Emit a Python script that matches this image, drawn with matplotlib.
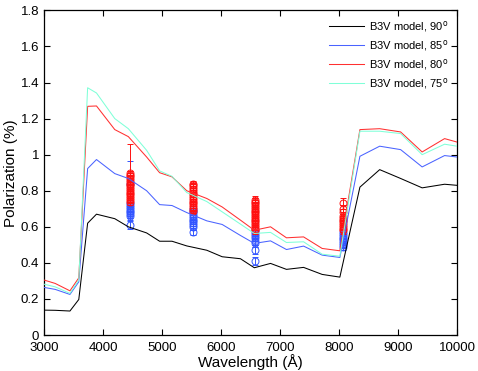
import matplotlib
matplotlib.use("Agg")
import matplotlib.pyplot as plt

plt.rcParams['font.family'] = ['Liberation Sans', 'DejaVu Sans']

# Model curves
wavelength = [3000, 3190, 3440, 3590, 3740, 3890, 4200, 4430, 4740, 4960, 5170, 5420,
              5760, 6020, 6330, 6565, 6840, 7110, 7400, 7715, 8015, 8355, 8690, 9045,
              9410, 9790, 10000]
model_90 = [0.138, 0.137, 0.133, 0.197, 0.62, 0.67, 0.645, 0.60, 0.566, 0.52, 0.52, 0.494,
            0.47, 0.434, 0.423, 0.373, 0.397, 0.364, 0.375, 0.336, 0.321, 0.82, 0.917, 0.868,
            0.816, 0.836, 0.83]
model_85 = [0.264, 0.253, 0.225, 0.295, 0.923, 0.973, 0.895, 0.868, 0.80, 0.723, 0.718, 0.679,
            0.633, 0.613, 0.552, 0.508, 0.522, 0.474, 0.493, 0.443, 0.43, 0.991, 1.047, 1.028,
            0.932, 0.995, 0.987]
model_80 = [0.305, 0.286, 0.245, 0.317, 1.268, 1.27, 1.139, 1.10, 0.987, 0.90, 0.877, 0.80,
            0.757, 0.71, 0.637, 0.581, 0.60, 0.539, 0.544, 0.48, 0.467, 1.139, 1.144, 1.126,
            1.015, 1.089, 1.07]
model_75 = [0.282, 0.267, 0.231, 0.305, 1.371, 1.342, 1.20, 1.144, 1.024, 0.91, 0.88, 0.79,
            0.74, 0.683, 0.615, 0.563, 0.569, 0.513, 0.517, 0.448, 0.437, 1.13, 1.13, 1.117,
            1.0, 1.058, 1.047]

# Observations (red and blue groups) at four wavelengths
obs_wl = [4450, 5530, 6580, 8060]
red_obs = [
    [0.90, 0.89, 0.88, 0.87, 0.86, 0.85, 0.84, 0.83, 0.82, 0.81, 0.80, 0.79, 0.78, 0.77, 0.76, 0.75, 0.74],
    [0.84, 0.83, 0.82, 0.81, 0.80, 0.79, 0.78, 0.77, 0.76, 0.75, 0.74, 0.73, 0.72, 0.71, 0.70, 0.69],
    [0.75, 0.74, 0.73, 0.72, 0.71, 0.70, 0.69, 0.68, 0.67, 0.66, 0.65, 0.64, 0.63, 0.62, 0.61, 0.60, 0.59, 0.58],
    [0.73, 0.70, 0.68, 0.66, 0.65, 0.64, 0.63, 0.62, 0.61, 0.60, 0.59, 0.58],
]
red_err = [
    [0.16, 0.02, 0.02, 0.02, 0.02, 0.02, 0.02, 0.02, 0.02, 0.02, 0.02, 0.02, 0.02, 0.02, 0.02, 0.02, 0.02],
    [0.015] * 16,
    [0.02] * 18,
    [0.03, 0.02, 0.02, 0.02, 0.02, 0.02, 0.02, 0.02, 0.02, 0.02, 0.02, 0.02],
]
blue_obs = [
    [0.84, 0.73, 0.72, 0.71, 0.70, 0.69, 0.68, 0.67, 0.66, 0.61],
    [0.70, 0.69, 0.68, 0.67, 0.66, 0.65, 0.64, 0.63, 0.62, 0.61, 0.60, 0.57],
    [0.58, 0.57, 0.56, 0.55, 0.54, 0.52, 0.51, 0.47, 0.41],
    [0.57, 0.56, 0.55, 0.54, 0.53, 0.52, 0.51, 0.50, 0.49],
]
blue_err = [
    [0.125, 0.02, 0.02, 0.02, 0.02, 0.02, 0.02, 0.02, 0.02, 0.02],
    [0.015] * 12,
    [0.02] * 9,
    [0.02] * 9,
]

fig = plt.figure(figsize=(4.78, 3.71), dpi=100)
ax = fig.add_axes([0.092, 0.097, 0.864, 0.875])

c_black = 'black'
c_blue = '#4a63ff'
c_red = '#ff3030'
c_cyan = '#80ffd8'

for i, w in enumerate(obs_wl):
    ax.errorbar([w] * len(blue_obs[i]), blue_obs[i], yerr=blue_err[i], fmt='o',
                mfc='none', mec='#3355ff', ecolor='#3355ff', ms=5, mew=0.7,
                elinewidth=0.7, capsize=2.5, zorder=3)
for i, w in enumerate(obs_wl):
    ax.errorbar([w] * len(red_obs[i]), red_obs[i], yerr=red_err[i], fmt='o',
                mfc='none', mec='#ff1010', ecolor='#ff1010', ms=5, mew=0.7,
                elinewidth=0.7, capsize=2.5, zorder=4)

ax.plot(wavelength, model_90, color=c_black, lw=0.75, label='B3V model, 90$^{\\rm o}$', zorder=5)
ax.plot(wavelength, model_85, color=c_blue, lw=0.75, label='B3V model, 85$^{\\rm o}$', zorder=5)
ax.plot(wavelength, model_80, color=c_red, lw=0.75, label='B3V model, 80$^{\\rm o}$', zorder=5)
ax.plot(wavelength, model_75, color=c_cyan, lw=0.75, label='B3V model, 75$^{\\rm o}$', zorder=5)

ax.set_xlim(3000, 10000)
ax.set_ylim(0, 1.8)
ax.set_xticks([3000, 4000, 5000, 6000, 7000, 8000, 9000, 10000])
ax.set_yticks([0, 0.2, 0.4, 0.6, 0.8, 1.0, 1.2, 1.4, 1.6, 1.8])
ax.set_yticklabels(['0', '0.2', '0.4', '0.6', '0.8', '1', '1.2', '1.4', '1.6', '1.8'])
ax.tick_params(direction='in', top=True, right=True, labelsize=9.5, length=4, width=0.8)
ax.tick_params(axis='x', pad=5)
for s in ax.spines.values():
    s.set_linewidth(0.9)

ax.set_xlabel('Wavelength (Å)', fontsize=11, labelpad=0)
ax.set_ylabel('Polarization (%)', fontsize=11, labelpad=2)

leg = ax.legend(loc='upper right', frameon=False, fontsize=8, handlelength=3.2,
                handletextpad=0.4, labelspacing=0.35, borderaxespad=0.4)

fig.savefig('out.png', dpi=100)
